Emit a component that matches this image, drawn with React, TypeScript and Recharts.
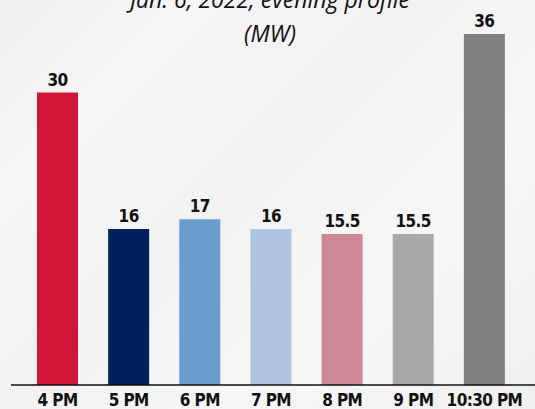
import { BarChart, Bar, XAxis, YAxis, Cell, LabelList } from 'recharts';

const categories = ['4 PM', '5 PM', '6 PM', '7 PM', '8 PM', '9 PM', '10:30 PM'];
const values = [30, 16, 17, 16, 15.5, 15.5, 36];
const colors = ['#d31638', '#00205b', '#6a9cce', '#b1c4df', '#cd8995', '#a9a9a9', '#808080'];

const data = categories.map((c, i) => ({ time: c, mw: values[i] }));

const FONT = '"DejaVu Sans Condensed", "Liberation Sans Narrow", sans-serif';

function TimeTick({ x, y, payload }: any) {
  return (
    <text x={x} y={y + 13} textAnchor="middle" fontFamily={FONT} fontWeight={700}
      fontSize={17} letterSpacing={-0.6} fill="#111" style={{ fontStretch: 'condensed' }}>
      {payload.value}
    </text>
  );
}

export default function App() {
  return (
    <div style={{
      position: 'absolute', left: 0, top: 0, width: 535, height: 409, overflow: 'hidden',
      background: 'linear-gradient(135deg, #eeeeee 0%, #f6f6f6 20%, #f2f2f2 45%, #f7f7f7 70%, #efefef 100%)',
    }}>
      {/* title, clipped at the top like the source */}
      <div style={{
        position: 'absolute', left: 0, width: 540, top: -18, textAlign: 'center',
        fontFamily: '"Open Sans", "Noto Sans", sans-serif', fontStyle: 'italic',
        fontSize: 23, lineHeight: '34px', color: '#111',
      }}>
        <div>Jan. 6, 2022, evening profile</div>
        <div>(MW)</div>
      </div>
      <div style={{
        position: 'absolute', left: -8, top: 182, fontFamily: FONT, fontWeight: 700,
        fontSize: 19, color: '#111',
      }}>l</div>

      <BarChart width={535} height={409} data={data}
        margin={{ top: 34, right: 0, bottom: 0, left: 11 }}>
        <YAxis hide domain={[0, 36]} />
        <XAxis dataKey="time" height={24} tickLine={false}
          axisLine={{ stroke: '#111', strokeWidth: 1.5 }}
          padding={{ left: 11, right: 15 }}
          tick={<TimeTick />} interval={0} />
        <Bar dataKey="mw" barSize={41} isAnimationActive={false}>
          {data.map((d, i) => <Cell key={d.time} fill={colors[i]} />)}
          <LabelList dataKey="mw" position="top" offset={7}
            style={{ fontFamily: FONT, fontWeight: 700, fontSize: 17, letterSpacing: -0.6, fill: '#111' }} />
        </Bar>
      </BarChart>
    </div>
  );
}
